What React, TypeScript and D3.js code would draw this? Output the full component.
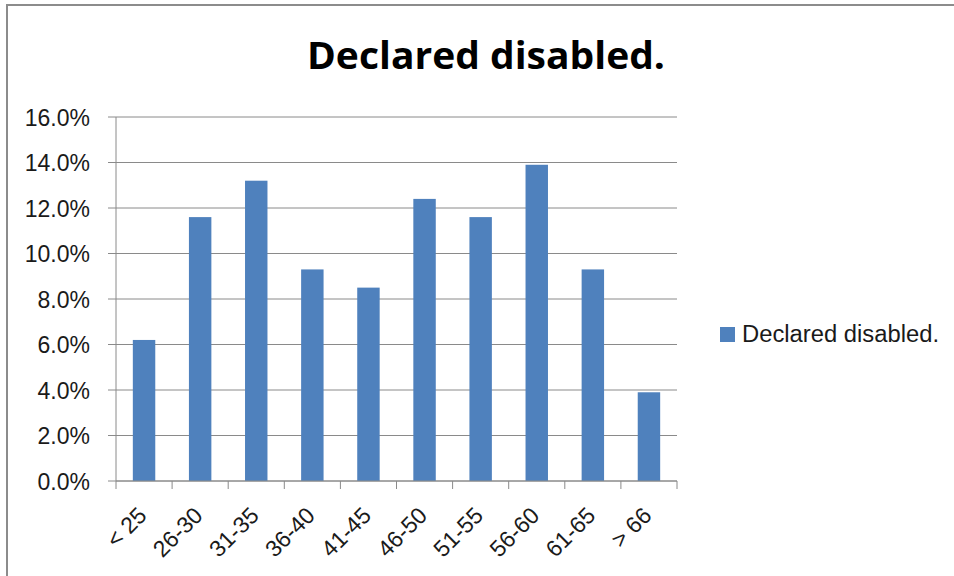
import React from "react";
import * as d3 from "d3";

const categories = ["< 25", "26-30", "31-35", "36-40", "41-45", "46-50", "51-55", "56-60", "61-65", "> 66"];
const values = [6.2, 11.6, 13.2, 9.3, 8.5, 12.4, 11.6, 13.9, 9.3, 3.9];
const yTicks = [0, 2, 4, 6, 8, 10, 12, 14, 16];
const seriesName = "Declared disabled.";
const chartTitle = "Declared disabled.";

const W = 954;
const H = 576;
const plot = { left: 116, right: 677, top: 117, bottom: 481 };
const barColor = "#4f81bd";
const gridColor = "#8a8a8a";
const textColor = "#1a1a1a";
const font = "'Liberation Sans', Arial, sans-serif";

export default function App() {
  const x = d3
    .scaleBand<string>()
    .domain(categories)
    .range([plot.left, plot.right])
    .paddingInner(0.6)
    .paddingOuter(0.3);
  const y = d3.scaleLinear().domain([0, 16]).range([plot.bottom, plot.top]);
  const fmt = d3.format(".1f");
  const step = x.step();
  const x0 = x.range()[0];
  const boundaries = d3.range(categories.length + 1).map((i) => x0 + i * step);

  return (
    <svg
      width={W}
      height={H}
      style={{ position: "absolute", left: 0, top: 0, background: "#fff" }}
    >
      {/* chart frame */}
      <rect x={7} y={5} width={W + 20} height={H + 20} fill="#fff" stroke="#8c8c8c" strokeWidth={2} />

      {/* title */}
      <text
        x={486}
        y={69}
        textAnchor="middle"
        fontFamily="'Open Sans', 'Liberation Sans', sans-serif"
        fontWeight="bold"
        fontSize={38}
        textLength={358}
        lengthAdjust="spacingAndGlyphs"
        fill="#000"
      >
        {chartTitle}
      </text>

      {/* horizontal gridlines and y ticks */}
      {yTicks.map((t) => (
        <g key={t}>
          <line x1={108} x2={plot.right} y1={y(t)} y2={y(t)} stroke={gridColor} strokeWidth={1} />
          <text
            x={90}
            y={y(t)}
            dy="0.38em"
            textAnchor="end"
            fontFamily={font}
            fontSize={23}
            fill={textColor}
          >
            {fmt(t)}%
          </text>
        </g>
      ))}

      {/* y axis line */}
      <line x1={plot.left} x2={plot.left} y1={plot.top} y2={plot.bottom} stroke={gridColor} strokeWidth={1} />

      {/* bars */}
      {categories.map((c, i) => (
        <rect
          key={c}
          x={x(c)}
          y={y(values[i])}
          width={x.bandwidth()}
          height={y(0) - y(values[i])}
          fill={barColor}
        />
      ))}

      {/* x axis line and tick marks */}
      <line x1={plot.left} x2={plot.right} y1={plot.bottom} y2={plot.bottom} stroke={gridColor} strokeWidth={1} />
      {boundaries.map((bx, i) => (
        <line key={i} x1={bx} x2={bx} y1={plot.bottom} y2={plot.bottom + 8} stroke={gridColor} strokeWidth={1} />
      ))}

      {/* rotated category labels */}
      {categories.map((c) => {
        const cx = (x(c) as number) + x.bandwidth() / 2 + 4;
        const cy = plot.bottom + 36;
        return (
          <text
            key={c}
            x={cx}
            y={cy}
            textAnchor="end"
            transform={`rotate(-45, ${cx}, ${cy})`}
            fontFamily={font}
            fontSize={23}
            fill={textColor}
          >
            {c}
          </text>
        );
      })}

      {/* legend */}
      <rect x={720} y={327} width={15} height={15} fill={barColor} />
      <text
        x={742}
        y={342}
        fontFamily={font}
        fontSize={23}
        textLength={197}
        lengthAdjust="spacingAndGlyphs"
        fill={textColor}
      >
        {seriesName}
      </text>
    </svg>
  );
}
